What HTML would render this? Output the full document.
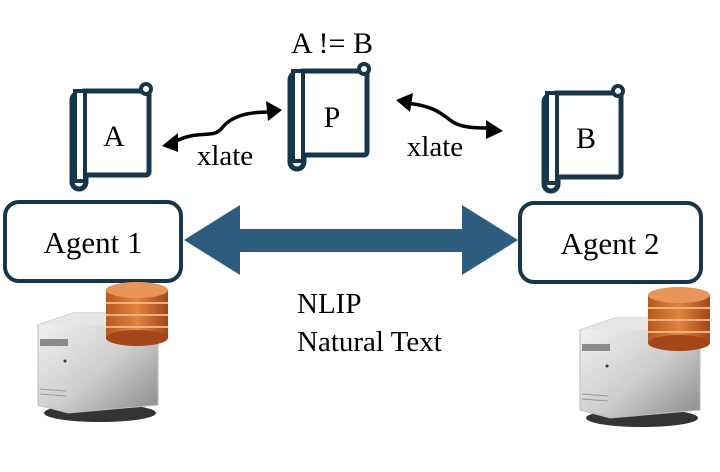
<!DOCTYPE html>
<html><head><style>html,body{margin:0;padding:0;background:#fff;}svg{display:block}</style></head>
<body>
<svg width="720" height="472" viewBox="0 0 720 472" xmlns="http://www.w3.org/2000/svg" font-family="Liberation Serif, serif">
<defs>
<g id="book">
  <rect x="0" y="8" width="14" height="96" rx="7" fill="#fff" stroke="#17364a" stroke-width="5"/>
  <rect x="9" y="6" width="68" height="84" rx="3" fill="#fff" stroke="#17364a" stroke-width="5"/>
  <rect x="3" y="6" width="10" height="90" fill="#fff" stroke="#17364a" stroke-width="4"/>
  <circle cx="74" cy="4" r="5" fill="#fff" stroke="#17364a" stroke-width="4"/>
</g>
<linearGradient id="srv" x1="0" y1="0" x2="1" y2="1"><stop offset="0" stop-color="#f4f4f4"/><stop offset="0.55" stop-color="#cdcdcd"/><stop offset="1" stop-color="#8a8a8a"/></linearGradient>
<linearGradient id="dsk" x1="0" y1="0" x2="1" y2="0"><stop offset="0" stop-color="#b85a20"/><stop offset="0.5" stop-color="#e0843e"/><stop offset="1" stop-color="#a5461a"/></linearGradient>
<g id="server">
  <ellipse cx="62" cy="108" rx="56" ry="9" fill="#111" opacity="0.85"/>
  <path d="M0 20 L35 8 L120 8 L120 100 L30 108 L0 100 Z" fill="url(#srv)" stroke="#bbb" stroke-width="1"/>
  <path d="M0 20 L35 8 L120 8 L90 20 Z" fill="#e6e6e6"/>
  <rect x="2" y="34" width="28" height="7" fill="#8a8a8a"/>
  <circle cx="27" cy="56" r="1.5" fill="#333"/>
  <line x1="2" y1="84" x2="28" y2="86" stroke="#999"/><line x1="2" y1="89" x2="28" y2="91" stroke="#999"/>
  <g>
    <rect x="68" y="-15" width="62" height="48" fill="url(#dsk)"/>
    <ellipse cx="99" cy="33" rx="31" ry="8" fill="#a5461a"/>
    <line x1="68" y1="-2" x2="130" y2="-2" stroke="#f0b080" stroke-width="2"/>
    <line x1="68" y1="10" x2="130" y2="10" stroke="#f0b080" stroke-width="2"/>
    <line x1="68" y1="22" x2="130" y2="22" stroke="#f0b080" stroke-width="2"/>
    <ellipse cx="99" cy="-15" rx="31" ry="8" fill="#e8955a"/>
  </g>
</g>
</defs>

<text x="332" y="53" font-size="30" text-anchor="middle">A != B</text>

<use href="#book" x="72" y="85"/>
<text x="114" y="146" font-size="30" text-anchor="middle">A</text>
<use href="#book" x="290" y="65"/>
<text x="332" y="127" font-size="30" text-anchor="middle">P</text>
<use href="#book" x="544" y="87"/>
<text x="586" y="148" font-size="30" text-anchor="middle">B</text>

<path d="M172 143 C200 128 212 140 222 128 C232 115 250 112 270 112" fill="none" stroke="#000" stroke-width="3.5"/>
<polygon points="162,146 178,133 178,152" fill="#000"/>
<polygon points="282,110 266,101 268,121" fill="#000"/>
<text x="225" y="165" font-size="29" text-anchor="middle">xlate</text>

<path d="M405 103 C430 105 440 112 450 120 C460 128 475 128 490 128" fill="none" stroke="#000" stroke-width="3.5"/>
<polygon points="396,100 413,93 410,112" fill="#000"/>
<polygon points="503,131 486,120 486,139" fill="#000"/>
<text x="435" y="156" font-size="29" text-anchor="middle">xlate</text>

<rect x="5" y="202" width="176" height="79" rx="14" fill="#fff" stroke="#17364a" stroke-width="4"/>
<text x="93" y="253" font-size="31" text-anchor="middle">Agent 1</text>
<rect x="520" y="203" width="181" height="79" rx="14" fill="#fff" stroke="#17364a" stroke-width="4"/>
<text x="610" y="254" font-size="31" text-anchor="middle">Agent 2</text>

<polygon points="184,240 240,205 240,229 462,229 462,205 518,240 462,275 462,252 240,252 240,275" fill="#2e5c7e"/>

<text x="297" y="313" font-size="29">NLIP</text>
<text x="297" y="351" font-size="29">Natural Text</text>

<use href="#server" x="38" y="305"/>
<use href="#server" x="580" y="310"/>
</svg>
</body></html>
